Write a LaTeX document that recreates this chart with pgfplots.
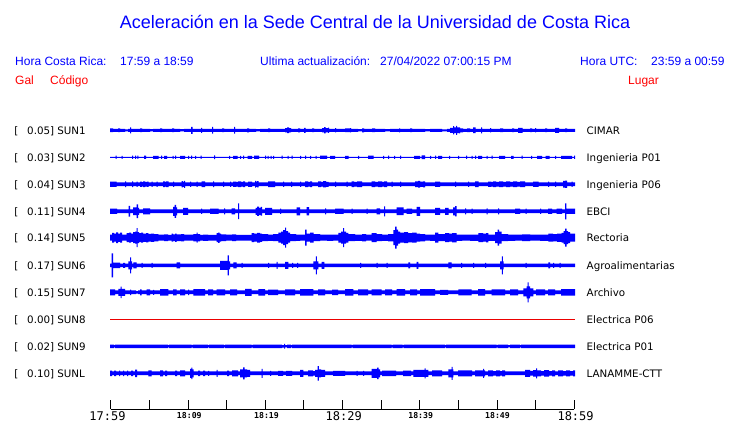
\documentclass[border=0pt]{standalone}
\usepackage{fontspec}
\setmainfont{Liberation Sans}
\newfontfamily\dv{DejaVu Sans}
\newfontfamily\dvm{DejaVu Sans Mono}
\usepackage{pgfplots}
\usepackage{pgfplotstable}
\usepgfplotslibrary{fillbetween}
\pgfplotsset{compat=1.18}
\definecolor{tblue}{RGB}{0,0,255}
\definecolor{tred}{RGB}{255,0,0}
\definecolor{lred}{RGB}{235,0,0}

% envelopes of the ten traces: x (pixel time position), a (half amplitude)
\pgfplotstableread[row sep=\\]{x a\\
110 1.8\\ 113 1.5\\ 118 1.9\\ 120 1.5\\ 125 1.0\\ 128 1.5\\ 130 3.0\\ 131 1.5\\ 140 1.8\\ 142 1.5\\
150 1.2\\ 153 1.5\\ 160 1.9\\ 162 1.5\\ 172 1.8\\ 174 1.5\\ 180 1.2\\ 184 1.5\\ 191 3.5\\ 192.5 1.5\\
201 2.5\\ 202 1.5\\ 212 3.3\\ 213 1.5\\ 222 1.8\\ 224 1.5\\ 234 3.3\\ 235 1.5\\ 247 2.0\\ 249 1.5\\
256 1.2\\ 260 1.5\\ 268 1.8\\ 270 1.5\\ 285 2.2\\ 287 2.8\\ 289 2.2\\ 291 1.5\\ 298 2.0\\ 300 1.5\\
304 2.5\\ 305.5 1.5\\ 312 1.9\\ 314 1.5\\ 322 2.2\\ 324 3.2\\ 325.5 2.2\\ 328 2.6\\ 329 1.5\\ 335 2.2\\
336 1.5\\ 345 1.8\\ 350 2.2\\ 351 1.5\\ 358 1.1\\ 362 2.0\\ 364 1.5\\ 372 1.8\\ 375 1.5\\ 385 1.2\\
390 1.5\\ 399 2.0\\ 400 1.5\\ 410 1.8\\ 412 1.5\\ 425 1.2\\ 430 1.5\\ 442 1.0\\ 447 1.5\\ 450 2.5\\
453 4.2\\ 454 2.8\\ 456 4.5\\ 457 2.8\\ 459 3.0\\ 460 2.0\\ 463 1.5\\ 467 1.8\\ 470 1.5\\ 473 2.8\\
475.5 1.5\\ 481 3.0\\ 482 1.5\\ 490 2.2\\ 491 1.5\\ 500 1.8\\ 503 1.5\\ 512 1.8\\ 514 1.5\\ 518 2.5\\
522.5 1.5\\ 530 1.8\\ 532 1.5\\ 535 2.2\\ 536 1.5\\ 545 1.8\\ 547 1.5\\ 555 2.5\\ 559 1.5\\ 565 1.8\\
567 1.5\\ 575 1.5\\
}\sunA

\pgfplotstableread[row sep=\\]{x a\\
110 0.5\\ 115.5 1.7\\ 116.5 0.5\\ 121.5 1.5\\ 122.5 0.5\\ 132 1.7\\ 133 0.5\\ 135 1.6\\ 136 0.5\\
137.3 1.7\\ 138.3 0.5\\ 144 1.7\\ 146 0.5\\ 153 1.5\\ 158.5 0.5\\ 161 1.6\\ 162 0.5\\ 164 1.5\\
167 0.5\\ 172.5 1.5\\ 173.5 0.5\\ 175 1.7\\ 176 0.5\\ 180 1.5\\ 185 0.5\\ 188 1.5\\ 189 0.5\\
191 1.6\\ 192 0.5\\ 195 1.5\\ 196 0.5\\ 200.5 1.6\\ 201.5 0.5\\ 214 1.8\\ 215 0.5\\ 229 1.5\\
230 0.5\\ 233 1.5\\ 237.5 0.5\\ 240 1.5\\ 241 0.5\\ 243 1.7\\ 244 0.5\\ 247.5 1.5\\ 252 0.5\\
254 1.6\\ 259 0.5\\ 265 1.6\\ 266 0.5\\ 267.5 1.5\\ 268.5 0.5\\ 270.5 1.5\\ 271.5 0.5\\ 273 1.5\\
274 0.5\\ 281.5 1.6\\ 282.5 0.5\\ 287.5 1.5\\ 288.5 0.5\\ 291.5 1.7\\ 292.5 0.5\\ 300 1.5\\
301 0.5\\ 305 1.6\\ 306 0.5\\ 310 1.5\\ 311 0.5\\ 315.5 1.5\\ 316.5 0.5\\ 320 1.6\\ 327 0.5\\
330 1.5\\ 335 0.5\\ 345 1.5\\ 348.5 0.5\\ 358 1.5\\ 359 0.5\\ 368 1.6\\ 373.5 0.5\\ 383 1.5\\
384 0.5\\ 388 1.6\\ 389 0.5\\ 394 1.5\\ 395 0.5\\ 400 1.6\\ 401 0.5\\ 414 1.5\\ 420 0.5\\
421.5 1.8\\ 425 0.5\\ 430 1.5\\ 431 0.5\\ 435 1.6\\ 436 0.5\\ 438 1.5\\ 442 0.5\\ 449 1.5\\
450 0.5\\ 458 1.5\\ 459 0.5\\ 466 1.6\\ 467 0.5\\ 471.5 1.5\\ 472.5 0.5\\ 475 1.6\\ 476 0.5\\
478 1.5\\ 482 0.5\\ 486.5 1.5\\ 487.5 0.5\\ 491.5 1.6\\ 492.5 0.5\\ 499 1.5\\ 505 0.5\\ 511 1.5\\
513.5 0.5\\ 521.5 1.6\\ 522.5 0.5\\ 531 1.5\\ 532 0.5\\ 537 1.5\\ 542 0.5\\ 545.5 1.5\\
549.5 0.5\\ 555 1.5\\ 556 0.5\\ 561 1.5\\ 572 0.5\\ 574 1.6\\ 575 0.5\\
}\sunB

\pgfplotstableread[row sep=\\]{x a\\
110 2.6\\ 116.7 1.85\\ 125 2.8\\ 126 1.85\\ 132 2.8\\ 133 1.85\\ 136.5 2.6\\ 137.5 1.85\\ 140 2.7\\
142 2.2\\ 143 2.8\\ 145 2.3\\ 147 2.7\\ 148.5 1.85\\ 151.5 2.6\\ 152.5 1.85\\ 156.5 2.7\\ 157.5 1.85\\
163 2.8\\ 165 2.3\\ 166 2.9\\ 168.5 1.85\\ 173 2.7\\ 174 1.85\\ 181.5 3.2\\ 183 2.5\\ 184 3.5\\
185 1.85\\ 190 2.6\\ 191 1.85\\ 196.5 2.7\\ 197.5 1.85\\ 201.5 2.8\\ 205 1.85\\ 213 2.8\\ 214 1.85\\
223 2.6\\ 224 1.85\\ 230 2.7\\ 231 1.85\\ 233 2.7\\ 236 2.3\\ 238 2.9\\ 241 2.3\\ 243 2.8\\ 245 1.85\\
248 2.7\\ 252 1.85\\ 255 3.3\\ 256 2.6\\ 257 3.2\\ 258.5 1.85\\ 268 2.8\\ 275 1.85\\ 283 2.6\\
284 1.85\\ 291 2.7\\ 292 1.85\\ 300 2.6\\ 301 1.85\\ 305 2.8\\ 308 2.4\\ 310 2.8\\ 312 1.85\\ 318 2.8\\
321 2.4\\ 323 3.1\\ 326 2.5\\ 328.5 1.85\\ 335 2.6\\ 336 1.85\\ 346.5 2.7\\ 347.5 1.85\\ 351.5 2.8\\
354 2.3\\ 357 2.8\\ 362 1.85\\ 371.5 2.8\\ 375 2.4\\ 378 2.9\\ 382 2.4\\ 384 2.8\\ 387 1.85\\
391.5 2.7\\ 392.5 1.85\\ 400 2.6\\ 401 1.85\\ 415 2.8\\ 418 3.3\\ 420 2.6\\ 423 3.0\\ 425 1.85\\
435 2.7\\ 440 1.85\\ 455 2.6\\ 456 1.85\\ 468 2.6\\ 469 1.85\\ 475 2.8\\ 478.5 1.85\\ 488 2.7\\
491 2.3\\ 493 2.8\\ 496 2.3\\ 499 2.8\\ 503 2.4\\ 506 2.9\\ 510 2.3\\ 513 2.8\\ 517 2.4\\ 520 2.8\\
525 1.85\\ 533 2.7\\ 538.5 1.85\\ 548 2.6\\ 549 1.85\\ 555 2.6\\ 556 1.85\\ 563 3.3\\ 565 3.6\\
567 1.85\\ 571.5 2.7\\ 572.5 1.85\\ 575 1.85\\
}\sunC

\pgfplotstableread[row sep=\\]{x a\\
110 2.6\\ 117 1.85\\ 128.5 5.3\\ 130 1.85\\ 133 3.8\\ 136.5 6.8\\ 138 3.5\\ 139 1.85\\ 143 3.0\\
150 1.85\\ 173 4.5\\ 174.5 6.5\\ 176 4.0\\ 177 1.85\\ 183 3.5\\ 188 1.85\\ 201 2.7\\ 202 1.85\\
210 2.7\\ 218.5 1.85\\ 224 3.0\\ 225 1.85\\ 231.5 3.0\\ 235 1.85\\ 238 7.8\\ 239 1.85\\ 255.5 3.5\\
257 4.6\\ 259 3.5\\ 260.5 4.4\\ 262 1.85\\ 265 3.5\\ 272 1.85\\ 280 2.6\\ 281 1.85\\ 296.5 4.0\\
300 1.85\\ 306.5 4.2\\ 309 1.85\\ 325 3.0\\ 326 1.85\\ 335 2.6\\ 343.5 1.85\\ 351.5 2.6\\ 352.5 1.85\\
366.5 2.6\\ 367.5 1.85\\ 376.5 3.0\\ 380 1.85\\ 384 5.0\\ 385 1.85\\ 396.5 3.8\\ 403.5 1.85\\
406.5 2.6\\ 412 1.85\\ 416.5 4.5\\ 420 1.85\\ 435 3.5\\ 440 1.85\\ 445 3.5\\ 448.5 1.85\\ 453 4.0\\
455 5.2\\ 456.5 1.85\\ 465 3.0\\ 466 1.85\\ 471.5 2.6\\ 472.5 1.85\\ 486.5 3.0\\ 487.5 1.85\\ 498 3.0\\
499 1.85\\ 515 2.6\\ 520 1.85\\ 525.5 2.6\\ 526.5 1.85\\ 540 2.6\\ 541 1.85\\ 548 2.6\\ 552 1.85\\
556.5 2.6\\ 562 1.85\\ 565 8.0\\ 566.3 2.6\\ 575 2.6\\
}\sunD

\pgfplotstableread[row sep=\\]{x a\\
110 3.0\\ 112 4.8\\ 114 4.0\\ 116 5.3\\ 118 4.2\\ 120 5.0\\ 122 3.0\\ 126.5 4.5\\ 129 5.0\\ 131 4.2\\
133 5.5\\ 135 6.0\\ 136.5 9.5\\ 137.5 5.5\\ 139 4.5\\ 141 5.0\\ 143 4.2\\ 146 4.6\\ 148.3 3.8\\
151 4.2\\ 154 3.6\\ 158.3 3.0\\ 164 3.3\\ 168 2.8\\ 171.7 4.0\\ 173 3.3\\ 175 4.2\\ 176.7 3.3\\
181 3.6\\ 184 3.0\\ 193.3 3.6\\ 196.5 5.0\\ 197.5 3.6\\ 200 2.8\\ 203 3.2\\ 208 2.8\\ 216.7 4.5\\
218 5.2\\ 219.5 4.0\\ 221 3.4\\ 226 3.0\\ 232 3.4\\ 236 2.8\\ 251.7 4.5\\ 254 4.0\\ 257 4.8\\
260 4.2\\ 262 3.5\\ 268 3.2\\ 273 3.5\\ 278.3 5.0\\ 281 6.0\\ 283 7.5\\ 285 10.0\\ 286 6.5\\ 288 5.0\\
290 3.5\\ 296 3.2\\ 300 3.0\\ 305 8.0\\ 306.5 4.0\\ 310 5.0\\ 313.5 3.5\\ 320 3.0\\ 327 3.2\\
333 3.0\\ 338.3 4.8\\ 341 6.0\\ 343 9.5\\ 344 6.0\\ 346 4.8\\ 348.3 3.5\\ 355 3.2\\ 362 3.6\\
366 3.0\\ 371.7 4.5\\ 376.7 3.5\\ 382 3.2\\ 388 3.6\\ 393.3 7.5\\ 395 11.0\\ 396.5 8.0\\ 398 6.0\\
400 5.0\\ 404 5.5\\ 408 4.6\\ 412 5.0\\ 416.7 4.0\\ 420 3.6\\ 425 3.0\\ 430 3.2\\ 435 5.0\\
438.3 3.5\\ 445 4.5\\ 449 4.0\\ 452 4.6\\ 456.7 3.2\\ 462 3.0\\ 470 3.2\\ 478.3 4.5\\ 483 4.0\\
486 4.6\\ 488.3 3.2\\ 495 5.5\\ 497.5 8.0\\ 499 6.0\\ 501.7 3.5\\ 508 3.2\\ 515 3.0\\ 522 3.3\\
530 3.0\\ 540 3.2\\ 548.3 4.0\\ 553 3.6\\ 557 4.2\\ 561.7 4.8\\ 563.5 6.5\\ 565 9.0\\ 566.5 6.5\\
568 5.5\\ 570 4.0\\ 575 4.0\\
}\sunE

\pgfplotstableread[row sep=\\]{x a\\
110 1.8\\ 111.7 12.0\\ 113 2.8\\ 115 2.8\\ 120 1.8\\ 123 2.5\\ 125 1.8\\ 128.3 4.0\\ 130 8.0\\
131 4.0\\ 132 1.8\\ 133.3 3.0\\ 136.7 1.8\\ 141.5 2.5\\ 142.5 1.8\\ 151.5 2.5\\ 152.5 1.8\\
176.7 3.0\\ 180 1.8\\ 220 4.5\\ 227.7 10.0\\ 228.8 4.0\\ 230 1.8\\ 233.3 3.0\\ 236.7 1.8\\
241.5 2.5\\ 242.5 1.8\\ 268 2.5\\ 269 1.8\\ 276.5 3.5\\ 277.5 1.8\\ 285 3.5\\ 288.3 1.8\\ 292 2.5\\
293 1.8\\ 297 2.5\\ 298 1.8\\ 313.3 4.0\\ 315.8 9.0\\ 316.8 4.0\\ 318.3 1.8\\ 321.7 3.5\\ 324.3 1.8\\
360 2.5\\ 361 1.8\\ 376.5 2.5\\ 377.5 1.8\\ 386.5 2.5\\ 387.5 1.8\\ 408.3 3.0\\ 410 1.8\\
416.7 3.5\\ 418.3 1.8\\ 448.3 3.0\\ 451.7 1.8\\ 461 2.5\\ 462 1.8\\ 473 2.5\\ 474 1.8\\ 485 2.5\\
486 1.8\\ 500 4.0\\ 501.8 9.0\\ 502.8 4.0\\ 503.5 1.8\\ 525.5 2.5\\ 526.5 1.8\\ 548.3 3.0\\
550 1.8\\ 553 2.5\\ 554 1.8\\ 559.5 2.5\\ 560.5 1.8\\ 575 1.8\\
}\sunF

\pgfplotstableread[row sep=\\]{x a\\
110 3.0\\ 115 1.9\\ 118.3 3.5\\ 120.5 5.7\\ 121.5 3.5\\ 125 1.9\\ 130 2.7\\ 131 1.9\\ 136 1.2\\
138 1.9\\ 140 3.0\\ 141.7 1.9\\ 146.7 3.0\\ 150 1.9\\ 153 2.5\\ 154 1.9\\ 160 3.2\\ 168.3 1.9\\
173 3.0\\ 176.5 1.9\\ 180 3.0\\ 185 1.9\\ 188 2.8\\ 189 1.9\\ 193.3 3.2\\ 205 1.9\\ 208 3.0\\
213 1.9\\ 216.7 3.0\\ 225 1.9\\ 230 3.0\\ 237 1.9\\ 245 3.5\\ 251.7 1.9\\ 258.3 3.2\\ 265 1.9\\
268 2.8\\ 278 1.9\\ 285 3.0\\ 295 1.9\\ 300 3.2\\ 313.3 1.9\\ 318 3.0\\ 325 1.9\\ 332 2.8\\ 338 1.9\\
345 3.3\\ 353.3 1.9\\ 358 3.0\\ 368 1.9\\ 371.7 3.0\\ 381.7 1.9\\ 385 3.0\\ 392 1.9\\ 396.7 3.2\\
405 1.9\\ 410 3.0\\ 417 1.9\\ 420 3.2\\ 435 1.9\\ 440 2.5\\ 448 1.9\\ 458.3 3.0\\ 471.7 1.9\\
478 3.2\\ 485 1.9\\ 491.7 3.0\\ 505 1.9\\ 510 3.0\\ 518 1.9\\ 523.3 4.0\\ 526.5 6.0\\ 527.5 10.0\\
528.5 6.0\\ 530 4.0\\ 533.3 1.9\\ 536 3.0\\ 545 1.9\\ 548 3.0\\ 555 1.9\\ 561 3.3\\ 575 3.3\\
}\sunG

\pgfplotstableread[row sep=\\]{x a\\
110 1.7\\ 114 1.1\\ 115 1.7\\ 168 1.1\\ 169 1.7\\ 191.5 1.1\\ 192.5 1.7\\ 208 1.1\\ 209 1.7\\
224 1.1\\ 225 1.7\\ 251.5 1.1\\ 252.5 1.7\\ 282 1.2\\ 284 2.4\\ 285 1.1\\ 287 1.7\\ 291 1.1\\
292 1.7\\ 351.5 1.1\\ 352.5 1.7\\ 391.5 1.1\\ 392.5 1.7\\ 402.5 1.1\\ 403.5 1.7\\ 445 1.1\\ 446 1.7\\
496.5 1.1\\ 497.5 1.7\\ 508 1.1\\ 510 1.7\\ 520 1.1\\ 521 1.7\\ 575 1.7\\
}\sunI

\pgfplotstableread[row sep=\\]{x a\\
110 2.8\\ 112 1.85\\ 114 2.8\\ 116 1.85\\ 119 2.8\\ 120 1.85\\ 123 2.8\\ 124 1.85\\ 127 2.8\\
128 1.85\\ 131 2.7\\ 133 1.85\\ 135 3.7\\ 137 1.85\\ 148.3 3.0\\ 151.7 1.85\\ 160 3.0\\ 163 1.85\\
165 2.8\\ 167 1.85\\ 175 2.8\\ 177 1.85\\ 180 3.0\\ 185 1.85\\ 190 4.5\\ 191.3 5.8\\ 192.3 4.0\\
193.5 1.85\\ 198 2.8\\ 200 1.85\\ 203 2.8\\ 205 1.85\\ 208 2.5\\ 209 1.85\\ 216.5 3.5\\ 217.5 1.85\\
227 2.8\\ 229 1.85\\ 232 3.0\\ 238 1.85\\ 240 4.0\\ 243 6.0\\ 244.5 4.0\\ 247 3.5\\ 250 1.85\\
261.5 4.5\\ 262.5 1.85\\ 270 2.5\\ 271 1.85\\ 278 2.5\\ 283 1.85\\ 286 2.5\\ 292 1.85\\ 300 3.5\\
303.3 1.85\\ 308 3.0\\ 313 2.2\\ 315 3.5\\ 317.5 7.2\\ 318.8 4.0\\ 321 3.5\\ 325 1.85\\ 333 2.5\\
345 1.85\\ 356.5 2.5\\ 357.5 1.85\\ 363 2.5\\ 364 1.85\\ 371.7 4.5\\ 377 5.8\\ 378.5 4.0\\ 380 1.85\\
382 2.7\\ 396 1.85\\ 403 2.7\\ 411 1.85\\ 413.3 3.5\\ 424.5 5.0\\ 425.5 3.5\\ 428.3 1.85\\ 432 3.0\\
442 1.85\\ 448.3 4.0\\ 451.5 6.5\\ 452.5 4.0\\ 453.3 1.85\\ 458 3.0\\ 472 1.85\\ 475 3.0\\ 483 4.5\\
484 3.0\\ 485 1.85\\ 488 3.0\\ 493 2.2\\ 496 3.0\\ 500 2.2\\ 502 3.0\\ 505 1.85\\ 525 3.5\\ 530 2.4\\
533 3.3\\ 536 5.0\\ 537 3.0\\ 541 2.3\\ 544 3.2\\ 549 2.3\\ 552 3.0\\ 555 1.85\\ 558 3.0\\ 563 2.3\\
566 3.0\\ 570 2.3\\ 573 3.0\\ 575 3.0\\
}\sunL

% one trace: #1 table, #2 centre line (pixel row), #3 name
\newcommand{\trace}[3]{%
  \addplot[draw=none, const plot, forget plot, name path=U#3] table[x=x, y expr={#2+\thisrow{a}}] {#1};
  \addplot[draw=none, const plot, forget plot, name path=L#3] table[x=x, y expr={#2-\thisrow{a}}] {#1};
  \addplot[fill=tblue, draw=none, forget plot] fill between[of=U#3 and L#3];
}

\newcommand{\lab}[4]{% #1 baseline y, #2 value, #3 code, #4 place
  \node[anchor=base west, inner sep=0, font=\dv\fontsize{10.3bp}{12bp}\selectfont] at (axis cs:14.2,#1) {[};
  \node[anchor=base west, inner sep=0, font=\dv\fontsize{10.3bp}{12bp}\selectfont] at (axis cs:27,#1) {#2] #3};
  \node[anchor=base west, inner sep=0, font=\dv\fontsize{10.3bp}{12bp}\selectfont] at (axis cs:586.5,#1) {#4};
}

\begin{document}
\begin{tikzpicture}[x=1bp,y=1bp]
\begin{axis}[at={(0,0)}, anchor=south west, width=740bp, height=423bp, scale only axis,
  xmin=0, xmax=740, ymin=0, ymax=423, y dir=reverse, hide axis, clip=false]

\trace{\sunA}{130.3}{a}
\trace{\sunB}{157.3}{b}
\trace{\sunC}{184.3}{c}
\trace{\sunD}{211.3}{d}
\trace{\sunE}{237.7}{e}
\trace{\sunF}{265.3}{f}
\trace{\sunG}{292.3}{g}
\addplot[draw=lred, line width=1bp] coordinates {(110,319.3) (575,319.3)};
\trace{\sunI}{346.3}{i}
\trace{\sunL}{373.3}{l}

% title and header
\node[anchor=base, inner sep=0, text=tblue, font=\fontsize{18bp}{20bp}\selectfont] at (axis cs:375,28.5)
  {Aceleración en la Sede Central de la Universidad de Costa Rica};
\node[anchor=base west, inner sep=0, text=tblue, font=\fontsize{12bp}{14bp}\selectfont] at (axis cs:15,65.5) {Hora Costa Rica:};
\node[anchor=base west, inner sep=0, text=tblue, font=\fontsize{12bp}{14bp}\selectfont] at (axis cs:120,65.5) {17:59 a 18:59};
\node[anchor=base west, inner sep=0, text=tblue, font=\fontsize{12bp}{14bp}\selectfont] at (axis cs:260,65.5) {Ultima actualización:};
\node[anchor=base west, inner sep=0, text=tblue, font=\fontsize{12bp}{14bp}\selectfont] at (axis cs:380,65.5) {27/04/2022 07:00:15 PM};
\node[anchor=base west, inner sep=0, text=tblue, font=\fontsize{12bp}{14bp}\selectfont] at (axis cs:580,65.5) {Hora UTC:};
\node[anchor=base west, inner sep=0, text=tblue, font=\fontsize{12bp}{14bp}\selectfont] at (axis cs:651,65.5) {23:59 a 00:59};
\node[anchor=base west, inner sep=0, text=tred, font=\fontsize{12bp}{14bp}\selectfont] at (axis cs:15,84.5) {Gal};
\node[anchor=base west, inner sep=0, text=tred, font=\fontsize{12bp}{14bp}\selectfont] at (axis cs:50,84.5) {Código};
\node[anchor=base west, inner sep=0, text=tred, font=\fontsize{12bp}{14bp}\selectfont] at (axis cs:628,84.5) {Lugar};

% station labels (baseline = centre + 3.75)
\lab{134.05}{0.05}{SUN1}{CIMAR}
\lab{161.05}{0.03}{SUN2}{Ingenieria P01}
\lab{188.05}{0.04}{SUN3}{Ingenieria P06}
\lab{215.05}{0.11}{SUN4}{EBCI}
\lab{241.45}{0.14}{SUN5}{Rectoria}
\lab{269.05}{0.17}{SUN6}{Agroalimentarias}
\lab{296.05}{0.15}{SUN7}{Archivo}
\lab{323.05}{0.00}{SUN8}{Electrica P06}
\lab{350.05}{0.02}{SUN9}{Electrica P01}
\lab{377.05}{0.10}{SUNL}{LANAMME-CTT}

% time axis
\draw[black, line width=0.9bp] (axis cs:110.7,409.3) -- (axis cs:574.3,409.3);
\pgfplotsinvokeforeach{110.7,149.33,187.97,226.6,265.23,303.87,342.5,381.13,419.77,458.4,497.03,535.67,574.3}{
  \draw[black, line width=0.9bp] (axis cs:#1,409.3) -- (axis cs:#1,399.5);
}
\node[anchor=base, inner sep=0, font=\dvm\fontsize{12bp}{14bp}\selectfont] at (axis cs:107.5,420.5) {17:59};
\node[anchor=base, inner sep=0, font=\dvm\bfseries\fontsize{8.2bp}{10bp}\selectfont] at (axis cs:189.3,418.7) {18:09};
\node[anchor=base, inner sep=0, font=\dvm\bfseries\fontsize{8.2bp}{10bp}\selectfont] at (axis cs:266.5,418.7) {18:19};
\node[anchor=base, inner sep=0, font=\dvm\fontsize{12bp}{14bp}\selectfont] at (axis cs:343.7,420.5) {18:29};
\node[anchor=base, inner sep=0, font=\dvm\bfseries\fontsize{8.2bp}{10bp}\selectfont] at (axis cs:420.7,418.7) {18:39};
\node[anchor=base, inner sep=0, font=\dvm\bfseries\fontsize{8.2bp}{10bp}\selectfont] at (axis cs:497.5,418.7) {18:49};
\node[anchor=base, inner sep=0, font=\dvm\fontsize{12bp}{14bp}\selectfont] at (axis cs:575.6,420.5) {18:59};
\end{axis}
\path (0,0) rectangle (740,423);
\end{tikzpicture}
\end{document}
